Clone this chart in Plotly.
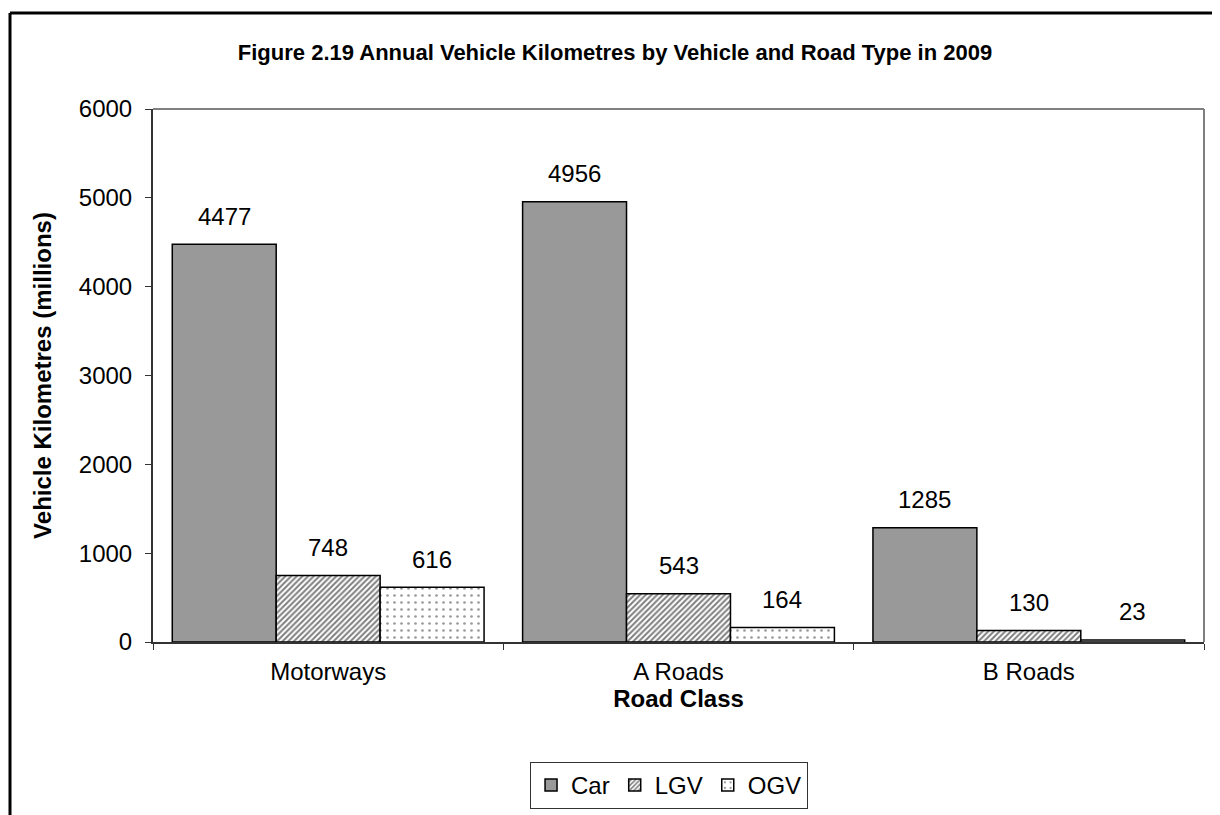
import plotly.graph_objects as go

road_class = ["Motorways", "A Roads", "B Roads"]
car = [4477, 4956, 1285]
lgv = [748, 543, 130]
ogv = [616, 164, 23]
y_ticks = [0, 1000, 2000, 3000, 4000, 5000, 6000]

FONT = "Liberation Sans, Arial, sans-serif"

# page body has an 8px margin, so the figure is drawn 8px smaller/offset
W, H = 1212, 807
L, T = 145, 101
R = W - 1196
B = H - 634
PW, PH = W - L - R, H - T - B

series = [
    ("Car", car, dict(color="#999999", line=dict(color="black", width=1.5))),
    ("LGV", lgv, dict(color="white", line=dict(color="black", width=1.5),
                      pattern=dict(shape="/", fgcolor="black", bgcolor="white", size=4, solidity=0.5))),
    ("OGV", ogv, dict(color="white", line=dict(color="black", width=1.5),
                      pattern=dict(shape=".", fgcolor="#333333", bgcolor="white", size=7, solidity=0.12))),
]

fig = go.Figure()
for name, vals, marker in series:
    fig.add_trace(go.Bar(x=road_class, y=vals, name=name, marker=marker))

bargap = 0.11
bar_px = PW / len(road_class) * (1 - bargap) / len(series)
for i, (name, vals, _) in enumerate(series):
    for cat, v in zip(road_class, vals):
        fig.add_annotation(x=cat, y=v, text=str(v), showarrow=False,
                           xshift=(i - 1) * bar_px, yshift=28, yanchor="middle",
                           font=dict(size=24, color="black", family=FONT))

# outer frame (top and left edges visible)
x_frame = (2 - L) / PW
y_frame = (H - B - 5) / PH
fig.add_shape(type="line", xref="paper", yref="paper", x0=x_frame, x1=1.2,
              y0=y_frame, y1=y_frame, line=dict(color="black", width=3))
fig.add_shape(type="line", xref="paper", yref="paper", x0=x_frame, x1=x_frame,
              y0=y_frame, y1=-0.5, line=dict(color="black", width=3))
# plot area top/right border
fig.add_shape(type="line", xref="paper", yref="paper", x0=0, x1=1, y0=1, y1=1,
              line=dict(color="#808080", width=2))
fig.add_shape(type="line", xref="paper", yref="paper", x0=1, x1=1, y0=0, y1=1,
              line=dict(color="#808080", width=2))

fig.update_layout(
    width=W, height=H,
    margin=dict(l=L, r=R, t=T, b=B, autoexpand=False),
    paper_bgcolor="white", plot_bgcolor="white",
    barmode="group", bargap=bargap, bargroupgap=0,
    font=dict(family=FONT, size=24, color="black"),
    title=dict(text="<b>Figure 2.19 Annual Vehicle Kilometres by Vehicle and Road Type in 2009</b>",
               x=607 / W, xanchor="center", y=1 - 44 / H, yanchor="middle",
               font=dict(size=22, family=FONT, color="black")),
    legend=dict(orientation="h", x=0.491, xanchor="center", y=-(754 - (H - B)) / PH, yanchor="top",
                bordercolor="#333333", borderwidth=1, font=dict(size=24, family=FONT),
                itemwidth=30, traceorder="normal"),
    showlegend=True,
)
fig.update_xaxes(showline=True, linecolor="#333333", linewidth=2, ticks="outside",
                 tickson="boundaries", ticklen=6, tickcolor="#333333",
                 tickfont=dict(size=24, family=FONT), ticklabelstandoff=7,
                 title=dict(text="<b>Road Class</b>", font=dict(size=24, family=FONT), standoff=1))
fig.update_yaxes(range=[0, 6000], tickvals=y_ticks, showline=True, linecolor="#333333", linewidth=2,
                 ticks="outside", ticklen=6, tickcolor="#333333", showgrid=False, zeroline=False,
                 tickfont=dict(size=24, family=FONT), ticklabelstandoff=8,
                 title=dict(text="<b>Vehicle Kilometres (millions)</b>", font=dict(size=24, family=FONT),
                            standoff=20))

fig.write_html("out.html")
